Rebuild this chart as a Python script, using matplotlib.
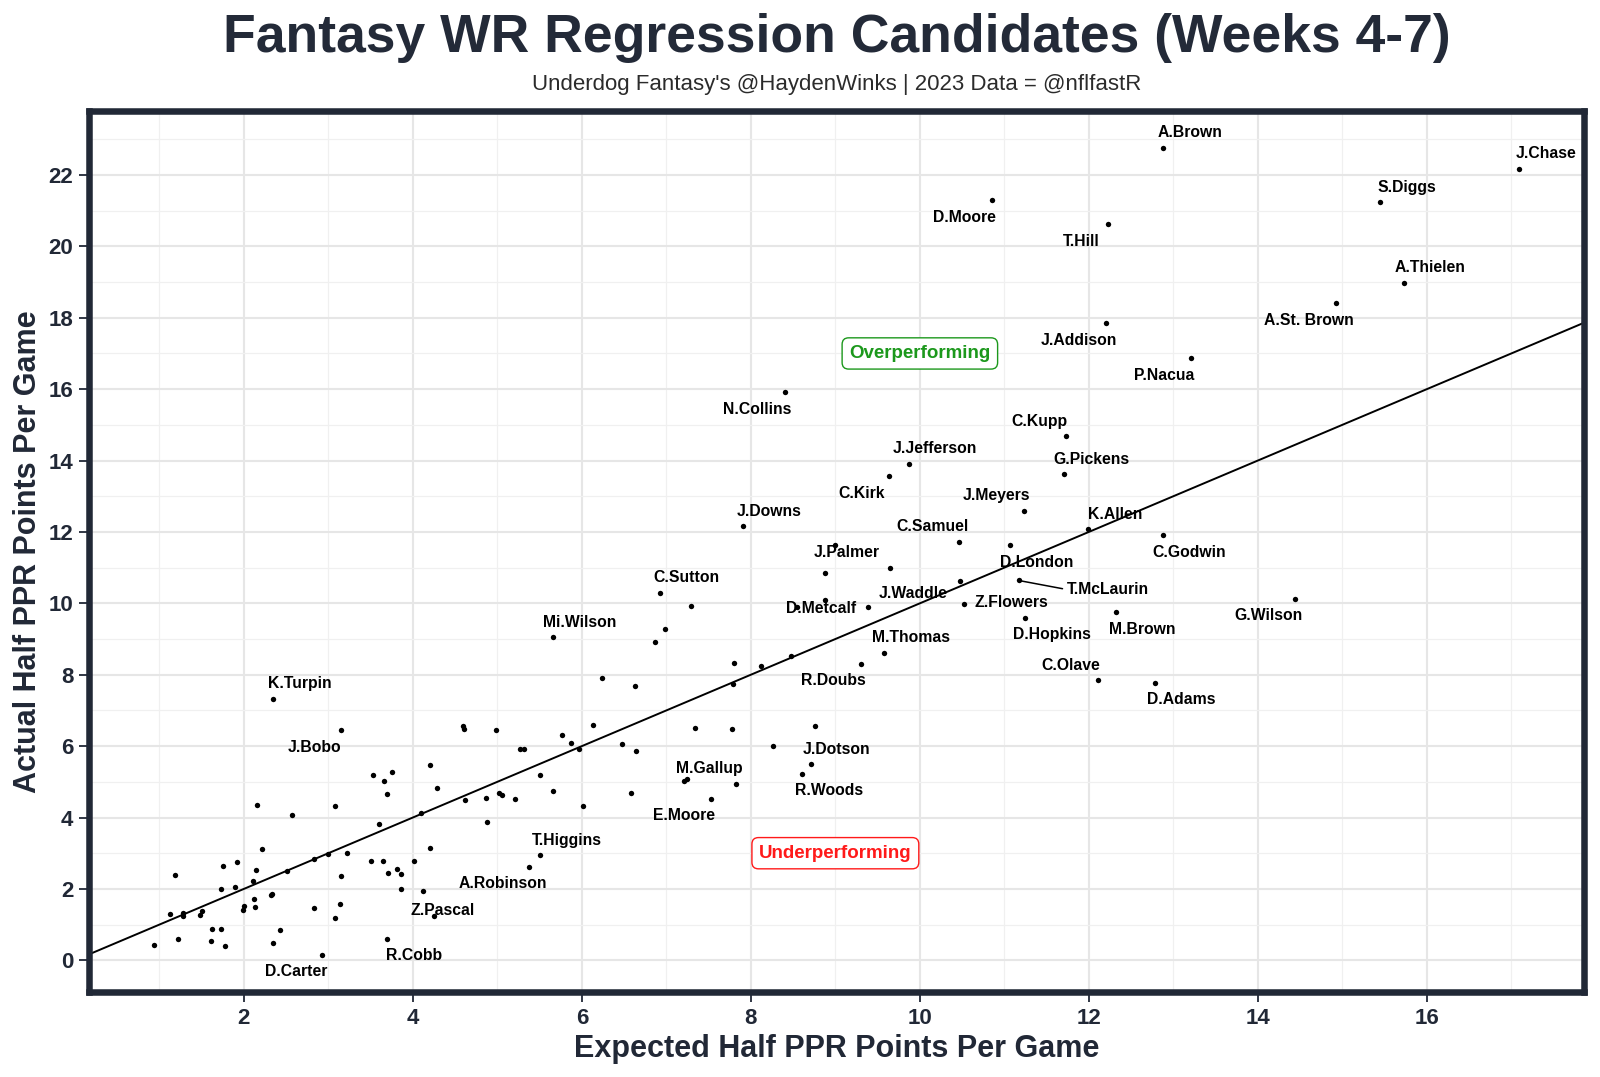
import matplotlib
matplotlib.use("Agg")
import matplotlib.pyplot as plt

# ---------------- data ----------------
players = ["A.Brown", "J.Chase", "S.Diggs", "D.Moore", "T.Hill", "A.Thielen", "A.St. Brown",
           "J.Addison", "P.Nacua", "N.Collins", "C.Kupp", "J.Jefferson", "C.Kirk", "G.Pickens",
           "J.Meyers", "J.Downs", "K.Allen", "C.Godwin", "C.Samuel", "D.London", "J.Palmer",
           "T.McLaurin", "C.Sutton", "J.Waddle", "Z.Flowers", "D.Metcalf", "G.Wilson", "M.Brown",
           "D.Hopkins", "Mi.Wilson", "M.Thomas", "R.Doubs", "C.Olave", "D.Adams", "K.Turpin",
           "J.Bobo", "J.Dotson", "R.Woods", "M.Gallup", "E.Moore", "T.Higgins", "A.Robinson",
           "Z.Pascal", "R.Cobb", "D.Carter"]
expected = [12.88, 17.09, 15.44, 10.85, 12.23, 15.73, 14.92,
            12.20, 13.21, 8.40, 11.73, 9.87, 9.63, 11.71,
            11.23, 7.91, 11.99, 12.88, 10.46, 11.07, 8.88,
            11.17, 6.92, 9.39, 10.52, 8.54, 14.44, 12.32,
            11.25, 5.66, 9.57, 9.30, 12.11, 12.78, 2.34,
            3.15, 8.71, 8.61, 7.24, 7.53, 5.51, 5.38,
            4.12, 3.69, 2.93]
actual = [22.76, 22.18, 21.24, 21.29, 20.62, 18.98, 18.41,
          17.84, 16.86, 15.91, 14.68, 13.91, 13.56, 13.61,
          12.60, 12.18, 12.07, 11.91, 11.73, 11.63, 10.85,
          10.64, 10.30, 9.90, 9.98, 9.89, 10.13, 9.75,
          9.60, 9.05, 8.62, 8.30, 7.85, 7.78, 7.32,
          6.45, 5.49, 5.23, 5.07, 4.53, 2.94, 2.61,
          1.93, 0.60, 0.15]

# unlabeled receivers
other_expected = [4.59, 4.61, 3.53, 3.66, 3.75, 3.69, 4.20, 4.28, 4.62, 2.15, 3.08, 2.57, 3.60, 4.10,
                  2.22, 3.22, 3.00, 2.83, 2.51, 3.51, 3.65, 4.01, 4.20, 3.81, 3.71, 3.86, 3.86, 4.25,
                  3.15, 3.14, 3.08, 2.43, 2.34, 2.83, 2.32, 2.33, 2.12, 2.13, 2.11, 2.14, 1.92, 1.75,
                  1.89, 1.73, 2.00, 1.99, 1.19, 1.12, 1.28, 1.28, 1.48, 1.51, 1.62, 1.73, 1.61, 1.78,
                  1.22, 0.94,
                  6.86, 6.98, 6.24, 6.63, 7.80, 8.12, 7.79, 8.26, 7.34, 7.78, 4.98, 5.77, 5.87, 6.13,
                  5.97, 5.27, 5.31, 6.48, 6.64, 5.50, 5.66, 6.01, 6.58, 7.21, 7.82, 4.86, 5.02, 5.06,
                  5.21, 4.88,
                  8.99, 8.88, 9.65, 10.48, 7.29, 8.47, 8.76]
other_actual = [6.55, 6.49, 5.20, 5.01, 5.27, 4.66, 5.48, 4.83, 4.48, 4.36, 4.33, 4.08, 3.81, 4.13,
                3.13, 3.01, 2.99, 2.84, 2.49, 2.79, 2.79, 2.79, 3.14, 2.56, 2.44, 2.41, 1.99, 1.25,
                2.35, 1.59, 1.19, 0.86, 0.49, 1.46, 1.84, 1.86, 1.71, 1.49, 2.21, 2.52, 2.76, 2.65,
                2.06, 1.99, 1.53, 1.40, 2.39, 1.29, 1.33, 1.23, 1.27, 1.37, 0.89, 0.89, 0.55, 0.40,
                0.60, 0.43,
                8.92, 9.29, 7.91, 7.67, 8.34, 8.24, 7.75, 6.01, 6.50, 6.47, 6.46, 6.31, 6.10, 6.60,
                5.92, 5.92, 5.92, 6.07, 5.85, 5.18, 4.74, 4.31, 4.68, 5.02, 4.95, 4.56, 4.70, 4.62,
                4.51, 3.88,
                11.64, 10.10, 11.00, 10.63, 9.93, 8.53, 6.55]

x_ticks = [2, 4, 6, 8, 10, 12, 14, 16]
y_ticks = [0, 2, 4, 6, 8, 10, 12, 14, 16, 18, 20, 22]

title = "Fantasy WR Regression Candidates (Weeks 4-7)"
subtitle = "Underdog Fantasy's @HaydenWinks | 2023 Data = @nflfastR"
x_label = "Expected Half PPR Points Per Game"
y_label = "Actual Half PPR Points Per Game"

# label placement (pixel offsets, +y = downward in image)
label_offsets = {
    "A.Brown": (27, -15), "J.Chase": (27, -15.5), "S.Diggs": (27, -14.5), "D.Moore": (-27, 17),
    "T.Hill": (-27, 17), "A.Thielen": (26, -15), "A.St. Brown": (-27, 17), "J.Addison": (-27, 17),
    "P.Nacua": (-27, 17), "N.Collins": (-27, 17.5), "C.Kupp": (-27, -14.5), "J.Jefferson": (26, -15),
    "C.Kirk": (-27, 17), "G.Pickens": (27, -15), "J.Meyers": (-27, -15), "J.Downs": (26, -14.5),
    "K.Allen": (27, -15), "C.Godwin": (26, 17), "C.Samuel": (-26, -15), "D.London": (26, 17),
    "J.Palmer": (21, -20), "T.McLaurin": (89, 9), "C.Sutton": (27, -15), "J.Waddle": (45, -13),
    "Z.Flowers": (48, -1.7), "D.Metcalf": (25, 1.7), "G.Wilson": (-27, 17), "M.Brown": (26, 17),
    "D.Hopkins": (26, 17), "Mi.Wilson": (27, -15), "M.Thomas": (27, -15.5), "R.Doubs": (-27, 16.5),
    "C.Olave": (-27, -15), "D.Adams": (26, 17), "K.Turpin": (27, -15), "J.Bobo": (-27, 17),
    "J.Dotson": (26, -15), "R.Woods": (27, 17), "M.Gallup": (23, -10.5), "E.Moore": (-27, 16.7),
    "T.Higgins": (26, -14.7), "A.Robinson": (-27, 16.7), "Z.Pascal": (20, 19.3), "R.Cobb": (27, 17),
    "D.Carter": (-26, 17),
}

# ---------------- style ----------------
plt.rcParams['font.family'] = ['Liberation Sans', 'DejaVu Sans']
dark = '#212836'
W, H = 1600, 1077
fig = plt.figure(figsize=(W / 100, H / 100), dpi=100)
ax = fig.add_axes([0.0559, 0.0792, 0.9341, 0.818])

ax.set_xlim(0.172, 17.86)
ax.set_ylim(-0.88, 23.80)

ax.set_xticks(x_ticks)
ax.set_yticks(y_ticks)
ax.set_xticks([1, 3, 5, 7, 9, 11, 13, 15, 17], minor=True)
ax.set_yticks([1, 3, 5, 7, 9, 11, 13, 15, 17, 19, 21, 23], minor=True)
ax.grid(which='major', color='#e6e6e6', lw=1.5, zorder=0)
ax.grid(which='minor', color='#f0f0f0', lw=0.9, zorder=0)
ax.set_axisbelow(True)
ax.tick_params(which='major', length=7, width=1.3, color=dark, labelsize=16,
               labelcolor=dark, pad=4.5)
ax.tick_params(which='minor', length=0)
for lab in ax.get_xticklabels() + ax.get_yticklabels():
    lab.set_fontweight('bold')
for sp in ax.spines.values():
    sp.set_linewidth(4.7)
    sp.set_color(dark)
    sp.set_zorder(10)

# diagonal line
ax.axline((0, 0), slope=1, color='black', lw=1.4, zorder=2)

# points
ax.scatter(other_expected, other_actual, s=15, color='black', zorder=3, linewidths=0)
ax.scatter(expected, actual, s=15, color='black', zorder=3, linewidths=0)

# labels
px2pt = 0.72
for name, xv, yv in zip(players, expected, actual):
    dx, dy = label_offsets[name]
    kw = {}
    if name == "T.McLaurin":
        kw['arrowprops'] = dict(arrowstyle='-', color='black', lw=1.1, shrinkA=1, shrinkB=1,
                                relpos=(0, 0.5))
    ax.annotate(name, (xv, yv), xytext=(dx * px2pt, -dy * px2pt), textcoords='offset points',
                ha='center', va='center', fontsize=11.3, fontweight='bold', color='black',
                zorder=5, **kw)

# region labels
ax.text(10, 17, "Overperforming", ha='center', va='center', fontsize=13.5, fontweight='bold',
        color='#1c981c', zorder=6,
        bbox=dict(boxstyle='round,pad=0.38,rounding_size=0.35', fc='white', ec='#1c981c', lw=1.0))
ax.text(9, 3, "Underperforming", ha='center', va='center', fontsize=13.5, fontweight='bold',
        color='#ff1a1a', zorder=6,
        bbox=dict(boxstyle='round,pad=0.38,rounding_size=0.35', fc='white', ec='#ff1a1a', lw=1.0))

ax.set_xlabel(x_label, fontsize=22, fontweight='bold', color=dark, labelpad=4)
ax.set_ylabel(y_label, fontsize=22, fontweight='bold', color=dark, labelpad=4)

cx = 0.0559 + 0.9341 / 2
fig.text(cx, 0.952, title, ha='center', va='baseline', fontsize=38.5, fontweight='bold', color='#232a38')
fig.text(cx, 0.9165, subtitle, ha='center', va='baseline', fontsize=16, color='#2b2b2b')

fig.savefig('out.png', dpi=100, facecolor='white')
